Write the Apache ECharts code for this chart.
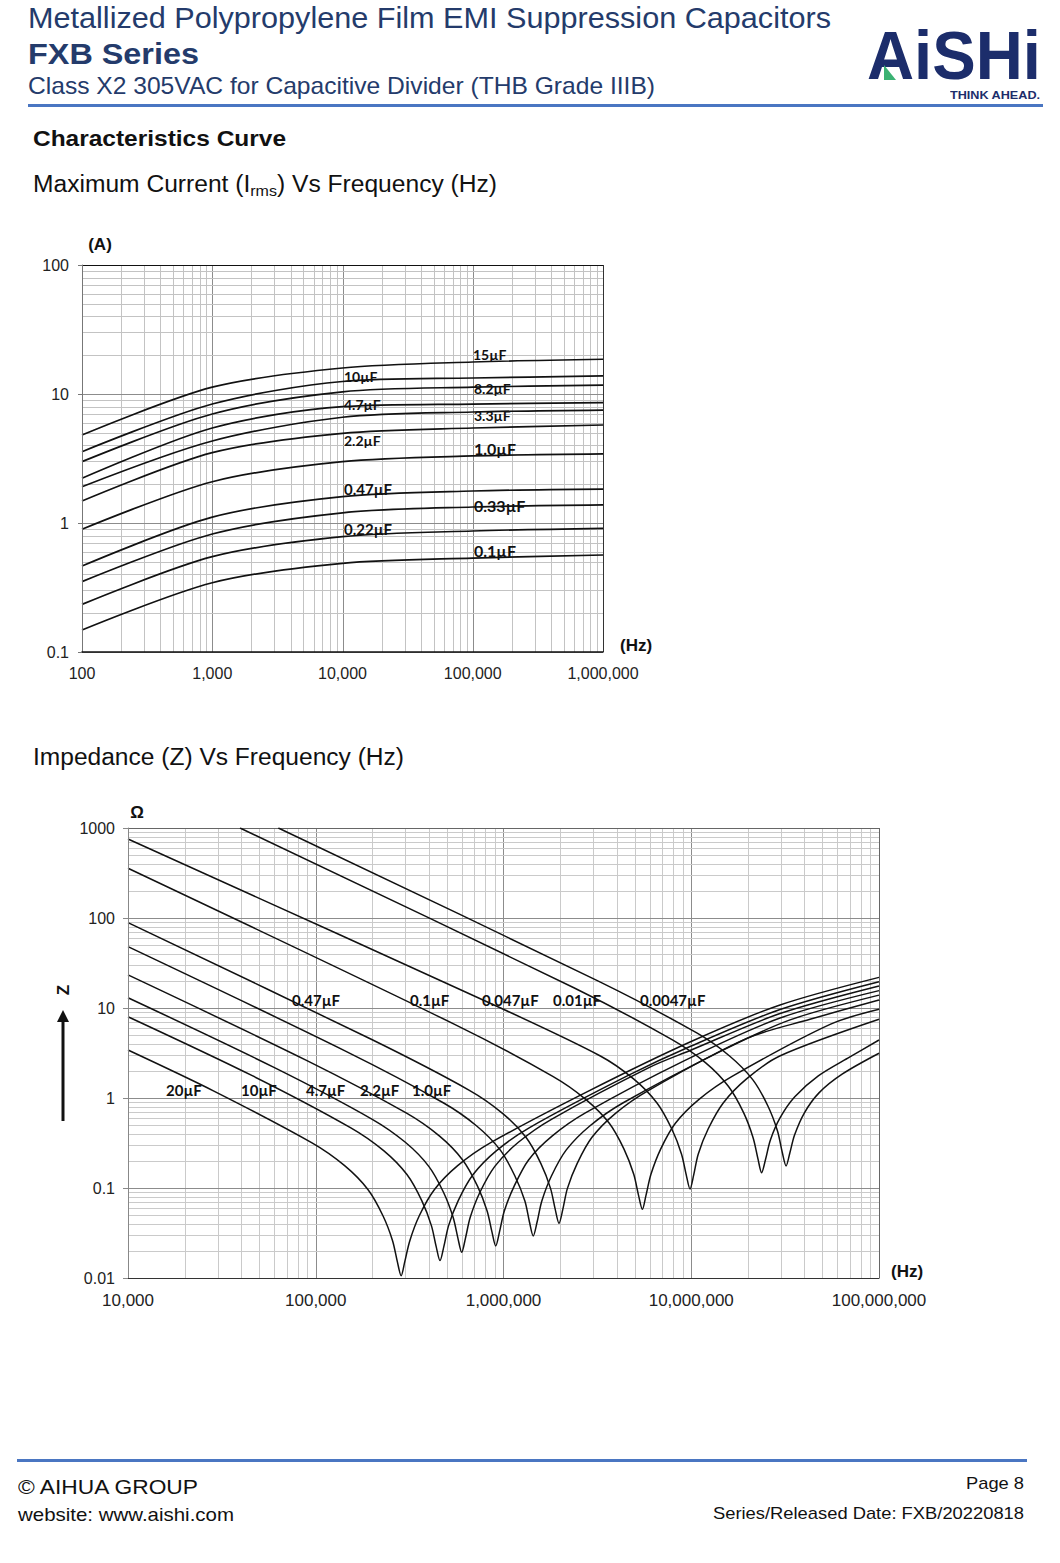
<!DOCTYPE html>
<html>
<head>
<meta charset="utf-8">
<title>FXB Series - Characteristics Curve</title>
<script src="https://cdn.jsdelivr.net/npm/echarts@6/dist/echarts.min.js"></script>
<style>
body { margin: 0; background: #fff; }
#page { position: relative; width: 1060px; height: 1563px; overflow: hidden; font-family: "Liberation Sans", Arial, sans-serif; }
#chart { position: absolute; left: 0; top: 0; width: 1060px; height: 1563px; }
.t { position: absolute; white-space: nowrap; line-height: 1; transform-origin: 0 50%; z-index: 2; }
.navy { color: #243b6b; }
.rule { position: absolute; height: 3px; background: #4a76c2; z-index: 2; }
</style>
</head>
<body>
<div id="page">
  <div id="chart"></div>

  <div class="t navy" style="left:28px;top:3px;font-size:30px;" data-w="803">Metallized Polypropylene Film EMI Suppression Capacitors</div>
  <div class="t navy" style="left:28px;top:39px;font-size:30px;font-weight:bold;" data-w="171">FXB Series</div>
  <div class="t navy" style="left:28px;top:74px;font-size:24px;" data-w="627">Class X2 305VAC for Capacitive Divider (THB Grade IIIB)</div>

  <div class="t" style="left:867px;top:28px;font-size:68px;line-height:0.8;font-weight:bold;color:#1c2d6b;" data-w="174">AiSHi</div>
  <div style="position:absolute;left:884px;top:65px;width:12px;height:15px;background:#3bb273;clip-path:polygon(0 0,100% 100%,0 100%);z-index:3;"></div>
  <div class="t" style="left:950px;top:90px;font-size:10.5px;font-weight:bold;color:#1c2d6b;" data-w="90">THINK AHEAD.</div>
  <div class="rule" style="left:28px;top:104px;width:1015px;"></div>

  <div class="t" style="left:33px;top:128px;font-size:22px;font-weight:bold;color:#111;" data-w="253">Characteristics Curve</div>
  <div class="t" style="left:33px;top:173px;font-size:23px;color:#111;" data-w="464">Maximum Current (I<span style="font-size:15px;vertical-align:-4px;">rms</span>) Vs Frequency (Hz)</div>
  <div class="t" style="left:33px;top:746px;font-size:23px;color:#111;" data-w="371">Impedance (Z) Vs Frequency (Hz)</div>

  <div class="rule" style="left:17px;top:1459px;width:1010px;"></div>
  <div class="t" style="left:18px;top:1476px;font-size:21px;color:#111;" data-w="180">© AIHUA GROUP</div>
  <div class="t" style="left:18px;top:1505px;font-size:19px;color:#111;" data-w="216">website: www.aishi.com</div>
  <div class="t" style="top:1475px;font-size:17px;color:#111;" data-w="58" data-r="1024">Page 8</div>
  <div class="t" style="top:1505px;font-size:17px;color:#111;" data-w="311" data-r="1024">Series/Released Date: FXB/20220818</div>
</div>

<script>
// ---- Maximum current (A) vs frequency (Hz) ----
var freqA = [100, 1000, 10000, 100000, 1000000];
var cur15 = [4.81, 11.3, 15.9, 17.7, 18.6];
var cur10 = [3.57, 8.36, 12.5, 13.3, 13.8];
var cur8_2 = [2.99, 7.0, 10.4, 11.3, 11.7];
var cur4_7 = [2.22, 5.45, 7.97, 8.36, 8.56];
var cur3_3 = [1.91, 4.32, 6.6, 7.25, 7.51];
var cur2_2 = [1.48, 3.51, 4.96, 5.45, 5.75];
var cur1_0 = [0.894, 2.09, 2.99, 3.31, 3.43];
var cur0_47 = [0.464, 1.11, 1.6, 1.77, 1.83];
var cur0_33 = [0.351, 0.822, 1.2, 1.33, 1.38];
var cur0_22 = [0.234, 0.548, 0.783, 0.867, 0.91];
var cur0_1 = [0.148, 0.344, 0.487, 0.535, 0.565];

// ---- Impedance (ohm) vs frequency (Hz), [Hz, ohm] ----
var z20 = [[1e4, 3.41], [2.85e4, 1.2], [9.5e4, 0.319], [1.425e5, 0.177], [1.9e5, 0.0957], [2.28e5, 0.0492], [2.565e5, 0.026], [2.72e5, 0.0152], [2.85e5, 0.0106], [2.98e5, 0.0152], [3.17e5, 0.026], [3.56e5, 0.0492], [4.28e5, 0.0957], [5.7e5, 0.177], [8.55e5, 0.319], [2.85e6, 1.2], [9.85e6, 4.19], [2.97e7, 10.8], [1e8, 21.9]];
var z10 = [[1e4, 8.0], [4.59e4, 1.77], [1.53e5, 0.469], [2.3e5, 0.26], [3.06e5, 0.141], [3.67e5, 0.0724], [4.13e5, 0.0382], [4.38e5, 0.0223], [4.59e5, 0.0156], [4.81e5, 0.0223], [5.1e5, 0.0382], [5.74e5, 0.0724], [6.89e5, 0.141], [9.18e5, 0.26], [1.377e6, 0.469], [4.59e6, 1.77], [9.85e6, 3.73], [2.97e7, 9.62], [1e8, 19.6]];
var z4_7 = [[1e4, 13.0], [5.99e4, 2.19], [2.0e5, 0.58], [3.0e5, 0.322], [4.0e5, 0.174], [4.79e5, 0.0896], [5.39e5, 0.0472], [5.72e5, 0.0276], [5.99e5, 0.0193], [6.27e5, 0.0276], [6.65e5, 0.0472], [7.49e5, 0.0896], [8.99e5, 0.174], [1.2e6, 0.322], [1.8e6, 0.58], [5.99e6, 2.19], [9.85e6, 3.37], [2.97e7, 8.69], [1e8, 17.6]];
var z2_2 = [[1e4, 23.3], [9.09e4, 2.57], [3.03e5, 0.682], [4.55e5, 0.379], [6.06e5, 0.205], [7.27e5, 0.105], [8.18e5, 0.0556], [8.68e5, 0.0325], [9.09e5, 0.0227], [9.52e5, 0.0325], [1.01e6, 0.0556], [1.14e6, 0.105], [1.36e6, 0.205], [1.82e6, 0.379], [2.73e6, 0.682], [9.09e6, 2.57], [2.97e7, 7.74], [1e8, 15.6]];
var z1_0 = [[1e4, 48.0], [1.44e5, 3.32], [4.8e5, 0.88], [7.2e5, 0.489], [9.6e5, 0.265], [1.15e6, 0.136], [1.3e6, 0.0717], [1.375e6, 0.0419], [1.44e6, 0.0293], [1.51e6, 0.0419], [1.6e6, 0.0717], [1.8e6, 0.136], [2.16e6, 0.265], [2.88e6, 0.489], [4.32e6, 0.88], [1.44e7, 3.32], [3.36e7, 7.38], [1e8, 13.9]];
var z0_47 = [[1e4, 88.7], [1.975e5, 4.49], [6.58e5, 1.217], [9.88e5, 0.676], [1.317e6, 0.366], [1.58e6, 0.188], [1.78e6, 0.0991], [1.886e6, 0.0579], [1.975e6, 0.0405], [2.07e6, 0.0579], [2.19e6, 0.0991], [2.47e6, 0.188], [2.96e6, 0.366], [3.95e6, 0.676], [5.93e6, 1.217], [1.975e7, 4.59], [4.29e7, 7.49], [1e8, 12.3]];
var z0_1 = [[1e4, 357], [5.49e5, 6.58], [1.83e6, 1.74], [2.74e6, 0.967], [3.66e6, 0.524], [4.39e6, 0.269], [4.94e6, 0.142], [5.24e6, 0.0829], [5.49e6, 0.058], [5.74e6, 0.0829], [6.1e6, 0.142], [6.86e6, 0.269], [8.23e6, 0.524], [1.1e7, 0.967], [1.65e7, 1.74], [5.49e7, 6.58], [1e8, 9.67]];
var z0_047 = [[1e4, 755], [9.85e5, 9.8], [3.28e6, 2.93], [4.93e6, 1.63], [6.57e6, 0.88], [7.88e6, 0.452], [8.87e6, 0.239], [9.41e6, 0.139], [9.85e6, 0.0975], [1.03e7, 0.139], [1.09e7, 0.239], [1.23e7, 0.452], [1.48e7, 0.88], [1.97e7, 1.63], [2.96e7, 2.93], [1e8, 7.49]];
var z0_01 = [[3.95e4, 1000], [2.37e6, 16.8], [7.9e6, 4.45], [1.19e7, 2.47], [1.58e7, 1.34], [1.9e7, 0.687], [2.135e7, 0.362], [2.265e7, 0.212], [2.37e7, 0.148], [2.49e7, 0.21], [2.64e7, 0.342], [2.97e7, 0.6], [3.56e7, 1.03], [4.75e7, 1.76], [7.0e7, 2.86], [1e8, 4.41]];
var z0_0047 = [[6.32e4, 1000], [3.2e6, 19.9], [1.07e7, 5.28], [1.6e7, 2.93], [2.13e7, 1.59], [2.56e7, 0.815], [2.88e7, 0.43], [3.05e7, 0.251], [3.2e7, 0.176], [3.35e7, 0.245], [3.55e7, 0.388], [4.0e7, 0.681], [4.79e7, 1.14], [6.39e7, 1.85], [1e8, 3.14]];

// labels written on the curves
var currentLabels = [
    ['15µF', 473, 354, 14], ['10µF', 344, 376, 14], ['8.2µF', 474, 388, 14],
    ['4.7µF', 344, 404, 14], ['3.3µF', 474, 415, 14], ['2.2µF', 344, 440, 14],
    ['1.0µF', 474, 448, 16], ['0.47µF', 344, 489, 15], ['0.33µF', 474, 505, 16],
    ['0.22µF', 344, 529, 15], ['0.1µF', 474, 550, 16]
];
var impedanceLabels = [
    ['0.47µF', 292, 1000], ['0.1µF', 410, 1000], ['0.047µF', 482, 1000],
    ['0.01µF', 553, 1000], ['0.0047µF', 640, 1000],
    ['20µF', 166, 1090], ['10µF', 241, 1090], ['4.7µF', 306, 1090],
    ['2.2µF', 360, 1090], ['1.0µF', 412, 1090]
];

var chart = echarts.init(document.getElementById('chart'), null, { renderer: 'svg' });

// decade + 2..9 positions for log grid lines
function logLines(e0, e1) {
    var out = [];
    for (var e = e0; e <= e1; e++) {
        var d = Math.pow(10, e);
        out.push([d, 1]);
        if (e < e1) {
            for (var k = 2; k <= 9; k++) out.push([d * k, 0]);
        }
    }
    return out;
}

function gridSeries(gi, xe, ye, c) {
    var xLo = Math.pow(10, xe[0]), xHi = Math.pow(10, xe[1]);
    var yLo = Math.pow(10, ye[0]), yHi = Math.pow(10, ye[1]);
    var data = [];
    logLines(xe[0], xe[1]).forEach(function (v) { data.push([v[0], yLo, v[1]]); });
    logLines(ye[0], ye[1]).forEach(function (v) { data.push([xLo, v[0], 2 + v[1]]); });
    return {
        type: 'custom',
        xAxisIndex: gi,
        yAxisIndex: gi,
        silent: true,
        z: 1,
        clip: false,
        encode: { x: 0, y: 1 },
        data: data,
        renderItem: function (params, api) {
            var cs = params.coordSys;
            var kind = api.value(2);
            var p = api.coord([api.value(0), api.value(1)]);
            var major = kind % 2 === 1;
            var color = major ? c.major : c.minor;
            var shape;
            if (kind < 2) {
                var x = Math.round(p[0]) + 0.5;
                if (api.value(0) >= xHi * 0.999) color = c.right;
                shape = { x1: x, y1: cs.y, x2: x, y2: cs.y + cs.height };
            } else {
                var y = Math.round(p[1]) + 0.5;
                if (api.value(1) >= yHi * 0.999) color = c.top;
                shape = { x1: cs.x, y1: y, x2: cs.x + cs.width, y2: y };
            }
            return { type: 'line', shape: shape, style: { stroke: color, lineWidth: 1 } };
        }
    };
}

function freqLabel(v) { return Math.round(v).toLocaleString('en-US'); }
function valLabel(v) { return v >= 1 ? String(Math.round(v)) : String(Number(v.toPrecision(3))); }

var series = [
    gridSeries(0, [2, 6], [-1, 2], { major: '#8c8c8c', minor: '#c3c3c3', top: '#111', right: '#333' }),
    gridSeries(1, [4, 8], [-2, 3], { major: '#8c8c8c', minor: '#cacaca', top: '#666', right: '#666' })
];

[cur15, cur10, cur8_2, cur4_7, cur3_3, cur2_2, cur1_0, cur0_47, cur0_33, cur0_22, cur0_1].forEach(function (vals) {
    series.push({
        type: 'line',
        xAxisIndex: 0,
        yAxisIndex: 0,
        z: 3,
        silent: true,
        showSymbol: false,
        smooth: 0.3,
        lineStyle: { color: '#111', width: 1.7 },
        data: freqA.map(function (f, i) { return [f, vals[i]]; })
    });
});

[z20, z10, z4_7, z2_2, z1_0, z0_47, z0_1, z0_047, z0_01, z0_0047].forEach(function (pts) {
    series.push({
        type: 'line',
        xAxisIndex: 1,
        yAxisIndex: 1,
        z: 3,
        silent: true,
        showSymbol: false,
        smooth: 0.3,
        lineStyle: { color: '#111', width: 1.5 },
        data: pts
    });
});

var labelFont = 'bold {s}px Lato, "Open Sans", sans-serif';
var graphics = [];
currentLabels.forEach(function (l) {
    graphics.push({
        type: 'text', x: l[1], y: l[2], z: 10,
        style: { text: l[0], font: labelFont.replace('{s}', l[3]), fill: '#111', align: 'left', verticalAlign: 'middle' }
    });
});
impedanceLabels.forEach(function (l) {
    graphics.push({
        type: 'text', x: l[1], y: l[2], z: 10,
        style: { text: l[0], font: labelFont.replace('{s}', 15), fill: '#111', align: 'left', verticalAlign: 'middle' }
    });
});
var unitFont = 'bold 17px "Liberation Sans", Arial, sans-serif';
graphics.push(
    { type: 'text', x: 100, y: 244, z: 10, style: { text: '(A)', font: unitFont, fill: '#111', align: 'center', verticalAlign: 'middle' } },
    { type: 'text', x: 620, y: 645, z: 10, style: { text: '(Hz)', font: unitFont, fill: '#111', align: 'left', verticalAlign: 'middle' } },
    { type: 'text', x: 137, y: 812, z: 10, style: { text: 'Ω', font: unitFont, fill: '#111', align: 'center', verticalAlign: 'middle' } },
    { type: 'text', x: 891, y: 1271, z: 10, style: { text: '(Hz)', font: unitFont, fill: '#111', align: 'left', verticalAlign: 'middle' } },
    { type: 'text', x: 63, y: 990, rotation: Math.PI / 2, z: 10, style: { text: 'Z', font: unitFont, fill: '#111', align: 'center', verticalAlign: 'middle' } },
    { type: 'line', z: 10, shape: { x1: 63, y1: 1121, x2: 63, y2: 1020 }, style: { stroke: '#111', lineWidth: 3 } },
    { type: 'polygon', z: 10, shape: { points: [[57, 1022], [69, 1022], [63, 1010]] }, style: { fill: '#111' } }
);

var option = {
    animation: false,
    backgroundColor: 'transparent',
    grid: [
        { left: 82, top: 265, width: 521, height: 387 },
        { left: 128, top: 828, width: 751, height: 450 }
    ],
    xAxis: [
        {
            type: 'log', logBase: 10, gridIndex: 0, min: 100, max: 1000000, z: 5,
            axisLine: { show: true, lineStyle: { color: '#111', width: 1.5 } },
            axisTick: { show: false },
            splitLine: { show: false },
            axisLabel: { formatter: freqLabel, fontSize: 16, color: '#222', margin: 13, fontFamily: 'Liberation Sans' }
        },
        {
            type: 'log', logBase: 10, gridIndex: 1, min: 10000, max: 100000000, z: 5,
            axisLine: { show: true, lineStyle: { color: '#333', width: 1.2 } },
            axisTick: { show: false },
            splitLine: { show: false },
            axisLabel: { formatter: freqLabel, fontSize: 17, color: '#222', margin: 14, fontFamily: 'Liberation Sans' }
        }
    ],
    yAxis: [
        {
            type: 'log', logBase: 10, gridIndex: 0, min: 0.1, max: 100, z: 5,
            axisLine: { show: true, lineStyle: { color: '#777', width: 1 } },
            axisTick: { show: true, length: 4, lineStyle: { color: '#777' } },
            splitLine: { show: false },
            axisLabel: { formatter: valLabel, fontSize: 16, color: '#222', margin: 13, fontFamily: 'Liberation Sans' }
        },
        {
            type: 'log', logBase: 10, gridIndex: 1, min: 0.01, max: 1000, z: 5,
            axisLine: { show: true, lineStyle: { color: '#888', width: 1 } },
            axisTick: { show: true, length: 5, lineStyle: { color: '#888' } },
            splitLine: { show: false },
            axisLabel: { formatter: valLabel, fontSize: 16, color: '#222', margin: 13, fontFamily: 'Liberation Sans' }
        }
    ],
    graphic: graphics,
    series: series
};

chart.setOption(option);

// squeeze the page texts to the widths they take in the original sheet
document.querySelectorAll('.t').forEach(function (el) {
    var w = +el.getAttribute('data-w');
    var cur = el.getBoundingClientRect().width;
    if (w && cur) el.style.transform = 'scaleX(' + (w / cur) + ')';
    var r = el.getAttribute('data-r');
    if (r) el.style.left = (+r - (w || cur)) + 'px';
});
</script>
</body>
</html>
